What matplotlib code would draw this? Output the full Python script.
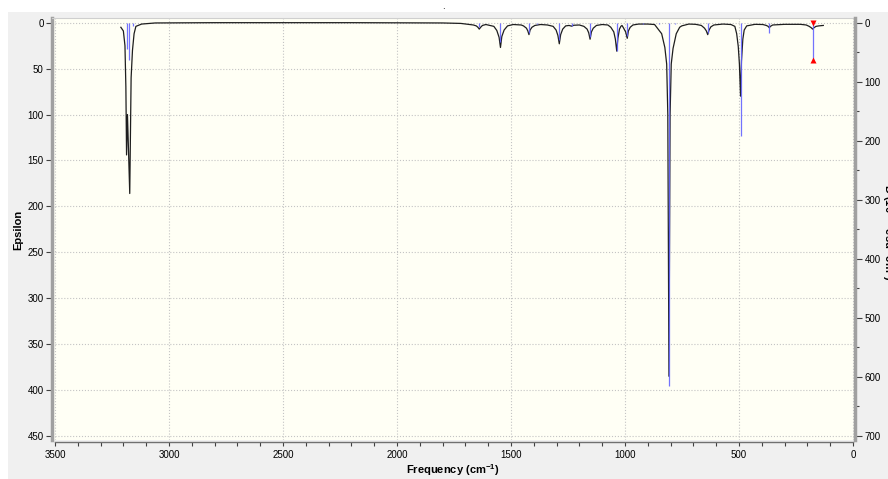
"""
IR spectrum plot (GaussView style): broadened epsilon curve + stick intensities.
"""

import matplotlib.pyplot as plt
from matplotlib.patches import Rectangle
from matplotlib.ticker import MultipleLocator

plt.rcParams["font.family"] = ["Liberation Sans Narrow", "Liberation Sans", "DejaVu Sans"]
plt.rcParams["mathtext.fontset"] = "custom"
plt.rcParams["mathtext.rm"] = "Liberation Sans"
plt.rcParams["mathtext.bf"] = "Liberation Sans:bold"

# stick spectrum (right axis)
stick_freq = [3186, 3175, 3156, 1639, 1546, 1421, 1387, 1288, 1234, 1153,
              1036, 990, 920, 850, 807, 780, 637, 493, 367, 177]
stick_int = [44, 64, 5, 8, 33, 17, 3, 30, 5, 24,
             48, 22, 2, 2, 615, 3, 18, 192, 17, 63]
selected_freq = 177

# broadened spectrum (left axis)
curve_freq = [3211, 3200, 3193, 3189, 3186, 3182, 3179, 3172, 3166, 3160,
              3153, 3145, 3120, 3060, 2800, 2200, 1800, 1720,
              1665, 1652, 1645, 1639, 1633, 1625, 1610,
              1575, 1562, 1552, 1546, 1540, 1530, 1515, 1490, 1455,
              1445, 1432, 1426, 1421, 1416, 1408, 1395, 1370, 1340,
              1315, 1302, 1294, 1288, 1282, 1273, 1260, 1245, 1234, 1225, 1200,
              1180, 1166, 1159, 1153, 1147, 1139, 1125, 1100, 1075,
              1062, 1049, 1042, 1036, 1031, 1024, 1018, 1013,
              1008, 997, 990, 985, 977, 965, 940, 900, 870,
              839, 825, 817, 812, 807, 802, 797, 789, 775, 760, 751, 720, 690,
              665, 651, 643, 637, 631, 623, 610, 570, 535,
              518, 510, 503, 498, 493, 489, 483, 477, 466, 430, 395,
              380, 372, 367, 362, 352, 300, 230, 205,
              192, 183, 177, 171, 162, 150, 130]
curve_eps = [5, 9, 25, 70, 144, 100, 125, 186, 60, 30,
             12, 4, 1.5, 0.3, 0, 0, 0.3, 0.8,
             2.5, 3.5, 5, 7, 5, 3, 2,
             4, 8.5, 16, 27, 15, 8, 3.5, 2, 2.5,
             3.5, 6, 9, 13, 8, 5, 3, 2, 2.5,
             4, 8, 14, 23, 13, 7, 3.5, 3, 3.8, 2.8, 2.5,
             4, 7, 11, 18, 10, 6, 3, 2, 2.5,
             5, 10, 18, 31, 17, 7, 4, 3,
             5, 10, 17, 9, 5, 2.5, 1.5, 1.5, 2,
             12, 27, 45, 100, 385, 100, 45, 28, 12, 5, 3.5, 1.5, 1.8,
             3, 6, 9, 13, 8, 4.5, 2.5, 1.5, 2,
             4, 12, 26, 45, 80, 42, 18, 8, 3.5, 1.8, 2,
             3, 4, 5.5, 4, 2.5, 1.8, 1.8, 2.5,
             4, 5.5, 7, 5.5, 4, 3.5, 3]

W, H = 888, 479

# ============ figure & panel ============
fig = plt.figure(figsize=(W / 100, H / 100), dpi=100)
fig.patch.set_facecolor("white")
fig.patches.append(Rectangle((8 / W, 0), 1, 1 - 12 / H, transform=fig.transFigure,
                             facecolor="#f0f0f0", edgecolor="none", zorder=-10))

ax = fig.add_axes([52 / W, 1 - 440 / H, (855 - 52) / W, (440 - 18) / H])
ax.set_facecolor("#fffff5")

# ============ epsilon curve ============
ax.plot(curve_freq, curve_eps, color="#1e1e1e", lw=0.9, zorder=3)
ax.set_xlim(3513, -9)
ax.set_ylim(454.4, -5.1)

ax.xaxis.set_major_locator(MultipleLocator(500))
ax.xaxis.set_minor_locator(MultipleLocator(100))
ax.yaxis.set_major_locator(MultipleLocator(50))
ax.grid(True, which="major", linestyle=":", color="#c4c4c4", lw=0.8)
ax.set_axisbelow(True)

# ============ stick intensities ============
ax2 = ax.twinx()
scale = 700 / 450
ax2.set_ylim(454.4 * scale, -5.1 * scale)
ax2.vlines(stick_freq, 0, stick_int, color="#6464ff", lw=0.9, alpha=0.9)
sel_int = stick_int[stick_freq.index(selected_freq)]
ax2.plot([selected_freq], [0], "v", color="red", ms=4, mec="none")
ax2.plot([selected_freq], [sel_int], "^", color="red", ms=4, mec="none")
ax2.yaxis.set_major_locator(MultipleLocator(100))
ax2.yaxis.set_minor_locator(MultipleLocator(50))

# ============ spines & ticks ============
ax.spines["right"].set_visible(False)
for s in ["left", "top", "bottom"]:
    ax2.spines[s].set_visible(False)
ax.spines["left"].set_color("#a0a0a0")
ax.spines["left"].set_linewidth(2.5)
ax.spines["top"].set_color("#cfcfcf")
ax.spines["top"].set_linewidth(0.8)
ax.spines["bottom"].set_color("#707070")
ax.spines["bottom"].set_linewidth(1.0)
ax.spines["bottom"].set_bounds(0, 3500)
ax.spines["bottom"].set_position(("outward", 1.5))
ax2.spines["right"].set_color("#a0a0a0")
ax2.spines["right"].set_linewidth(2.5)

ax.tick_params(axis="y", direction="out", length=4, width=0.8, color="#404040",
               labelsize=7, pad=2)
ax.tick_params(axis="x", which="both", direction="out", length=3, width=0.8,
               color="#404040", labelsize=7, pad=3)
ax2.tick_params(axis="y", which="major", direction="out", length=5, width=0.8,
                color="#404040", labelsize=7, pad=2)
ax2.tick_params(axis="y", which="minor", direction="out", length=3, width=0.8,
                color="#404040")

# ============ labels ============
fig.text(453 / W, 1 - 470 / H, r"Frequency (cm$^{\mathbf{-1}}$)", ha="center", va="center",
         fontsize=8, fontweight="bold")
fig.text(18 / W, 1 - 230 / H, "Epsilon", rotation=90, ha="center", va="center",
         fontsize=8, fontweight="bold")
# right axis title runs off the window edge in the original screenshot
fig.text(880 / W, 1 - 232 / H, r"D (10$^{\mathbf{-40}}$ esu$^{\mathbf{2}}$ cm$^{\mathbf{2}}$)",
         rotation=270, ha="left", va="center", fontsize=8, fontweight="bold")
fig.text(443 / W, 1 - 6 / H, ".", ha="center", va="center", fontsize=7)

fig.savefig("out.png", dpi=100)
